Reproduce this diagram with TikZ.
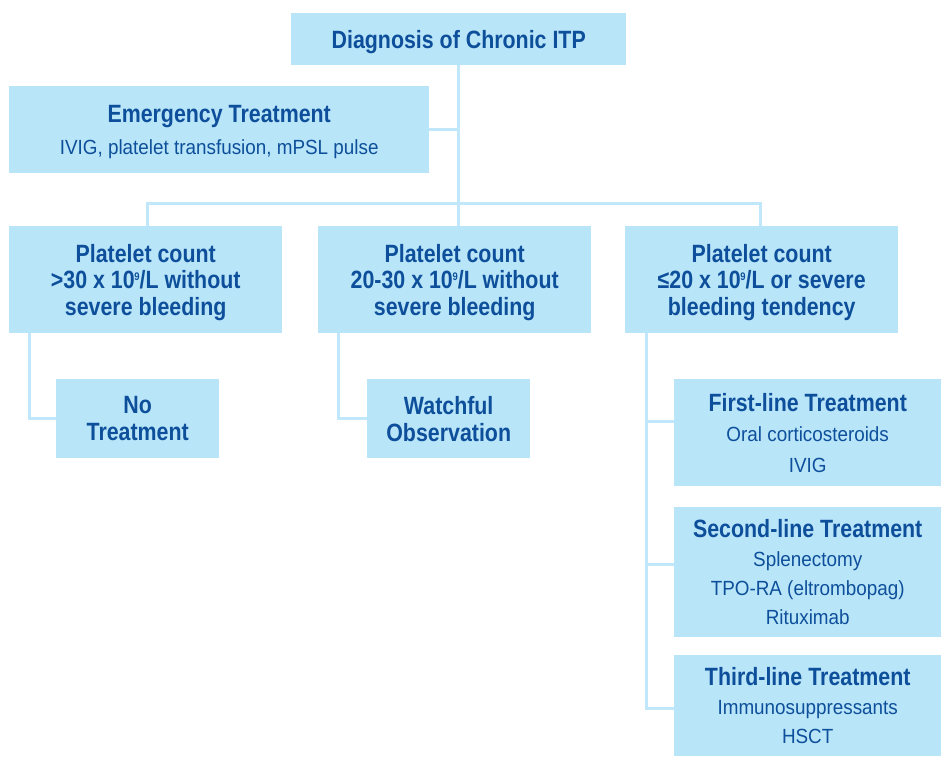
\documentclass[tikz,border=0pt]{standalone}
\usepackage{fontspec}
\newfontfamily\hdfam[FakeStretch=0.855]{Liberation Sans}
\newfontfamily\rgfam[FakeStretch=0.92]{Liberation Sans}
\newcommand\hdsz[1]{\hdfam\bfseries\fontsize{25}{#1}\selectfont}
\newcommand\rgsz[1]{\rgfam\mdseries\fontsize{20.5}{#1}\selectfont}
\newcommand\supnine{\kern-0.3pt\raisebox{8pt}{\fontsize{11}{11}\selectfont 9}}
\definecolor{boxblue}{RGB}{185,229,249}
\definecolor{lineblue}{RGB}{192,232,250}
\definecolor{textblue}{RGB}{13,79,154}
\tikzset{
  box/.style={fill=boxblue, draw=none, inner sep=0pt, text=textblue, anchor=north west, text depth=0pt},
  conn/.style={draw=lineblue, line width=3pt, line join=miter}
}
\begin{document}
\begin{tikzpicture}[x=1pt,y=-1pt]
\useasboundingbox (0,0) rectangle (941,756);
% boxes
\node[box, minimum width=335, minimum height=52] (diag) at (291,13)
  {\parbox[b]{320pt}{\centering\hdsz{26}Diagnosis of Chronic ITP}};
\node[box, minimum width=420, minimum height=87] (emer) at (9,86)
  {\parbox[b]{400pt}{\centering\hdsz{31.6}Emergency Treatment\par\rgsz{31.6}IVIG, platelet transfusion, mPSL pulse}};
\node[box, minimum width=273, minimum height=107] (pl) at (9,226)
  {\parbox[b]{260pt}{\centering\hdsz{26.5}Platelet count\\>30 x 10\supnine/L without\\severe bleeding}};
\node[box, minimum width=273, minimum height=107] (pm) at (318,226)
  {\parbox[b]{260pt}{\centering\hdsz{26.5}Platelet count\\20-30 x 10\supnine/L without\\severe bleeding}};
\node[box, minimum width=273, minimum height=107] (pr) at (625,226)
  {\parbox[b]{260pt}{\centering\hdsz{26.5}Platelet count\\≤20 x 10\supnine/L or severe\\bleeding tendency}};
\node[box, minimum width=163, minimum height=79] (notr) at (56,379)
  {\parbox[b]{150pt}{\centering\hdsz{26.7}No\\Treatment}};
\node[box, minimum width=163, minimum height=79] (watch) at (367,379)
  {\parbox[b]{150pt}{\centering\hdsz{26.7}Watchful\\Observation}};
\node[box, minimum width=267, minimum height=107] (first) at (674,379)
  {\parbox[b]{255pt}{\centering\hdsz{30.5}First-line Treatment\par\rgsz{30.5}Oral corticosteroids\par IVIG}};
\node[box, minimum width=267, minimum height=130] (second) at (674,507)
  {\parbox[b]{255pt}{\centering\hdsz{29}Second-line Treatment\par\rgsz{29}Splenectomy\par TPO-RA (eltrombopag)\par Rituximab}};
\node[box, minimum width=267, minimum height=101] (third) at (674,655)
  {\parbox[b]{255pt}{\centering\hdsz{29}Third-line Treatment\par\rgsz{29}Immunosuppressants\par HSCT}};
% helper coordinates
\coordinate (busL) at (147,203);
\coordinate (busR) at (760,203);
\coordinate (lx) at (29,0);
\coordinate (mx) at (338,0);
\coordinate (b1) at (646,421);
\coordinate (b2) at (646,564);
\coordinate (b3) at (646,708);
% connectors
\draw[conn] (diag.south) -- (diag.south |- pm.north);
\draw[conn] (emer.east) -- (emer.east -| diag.south);
\draw[conn] (pl.north -| busL) -- (busL) -- (busR) -- (pr.north -| busR);
\draw[conn] (pl.south -| lx) |- (notr.west);
\draw[conn] (pm.south -| mx) |- (watch.west);
\draw[conn] (pr.south -| b3) -- (b3) -- (b3 -| third.west);
\draw[conn] (b1) -- (b1 -| first.west);
\draw[conn] (b2) -- (b2 -| second.west);
\end{tikzpicture}
\end{document}
